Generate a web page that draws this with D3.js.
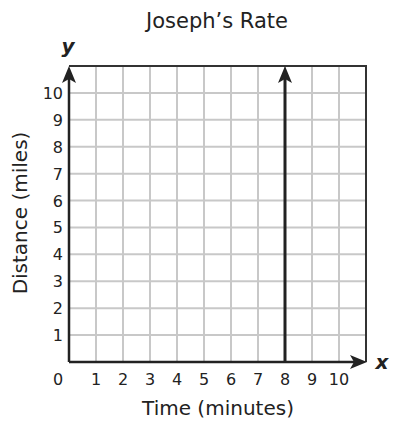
<!DOCTYPE html>
<html><head><meta charset="utf-8">
<script src="https://cdn.jsdelivr.net/npm/d3@7"></script>
<style>body{margin:0;background:#fff}svg{display:block}text{font-family:"DejaVu Sans",Verdana,sans-serif;fill:#222}</style>
</head><body><svg id="c" width="400" height="428"></svg>
<script>
const title = "Joseph’s Rate";
const xLabel = "Time (minutes)";
const yLabel = "Distance (miles)";
const xTickLabels = [0,1,2,3,4,5,6,7,8,9,10];
const yTickLabels = [1,2,3,4,5,6,7,8,9,10];
const gridValues = [1,2,3,4,5,6,7,8,9,10];
const domainMax = 11;
const verticalLineX = [8];

const svg = d3.select("#c");
const x = d3.scaleLinear([0, domainMax], [69, 366]);
const y = d3.scaleLinear([0, domainMax], [362, 66]);

// grid
svg.append("g").selectAll("line").data(gridValues).join("line")
  .attr("x1", d => x(d)).attr("x2", d => x(d)).attr("y1", y(0)).attr("y2", y(domainMax))
  .attr("stroke", "#c8c8c8").attr("stroke-width", 2);
svg.append("g").selectAll("line").data(gridValues).join("line")
  .attr("y1", d => y(d)).attr("y2", d => y(d)).attr("x1", x(0)).attr("x2", x(domainMax))
  .attr("stroke", "#c8c8c8").attr("stroke-width", 2);
// border top/right
svg.append("path")
  .attr("d", `M${x(0)},${y(domainMax)}H${x(domainMax)}V${y(0)}`)
  .attr("fill", "none").attr("stroke", "#333").attr("stroke-width", 2);

function arrowHead(tx, ty, dir) {
  const L = 17, W = 7, N = 4;
  if (dir === "up")
    return `M${tx},${ty}L${tx+W},${ty+L}L${tx},${ty+L-N}L${tx-W},${ty+L}Z`;
  return `M${tx},${ty}L${tx-L},${ty-W}L${tx-L+N},${ty}L${tx-L},${ty+W}Z`;
}

// axes
svg.append("line").attr("x1", x(0)).attr("x2", x(domainMax)-8).attr("y1", y(0)).attr("y2", y(0))
  .attr("stroke", "#222").attr("stroke-width", 2.5);
svg.append("path").attr("d", arrowHead(x(domainMax)+1, y(0), "right")).attr("fill", "#222");
svg.append("line").attr("x1", x(0)).attr("x2", x(0)).attr("y1", y(0)).attr("y2", y(domainMax)+8)
  .attr("stroke", "#222").attr("stroke-width", 2.5);
svg.append("path").attr("d", arrowHead(x(0), y(domainMax), "up")).attr("fill", "#222");

// vertical line
verticalLineX.forEach(v => {
  svg.append("line").attr("x1", x(v)).attr("x2", x(v)).attr("y1", y(0)).attr("y2", y(domainMax)+8)
    .attr("stroke", "#222").attr("stroke-width", 3);
  svg.append("path").attr("d", arrowHead(x(v), y(domainMax), "up")).attr("fill", "#222");
});

// tick labels
svg.append("g").selectAll("text").data(xTickLabels).join("text")
  .attr("x", d => d === 0 ? x(0) - 11 : x(d)).attr("y", 385)
  .attr("text-anchor", "middle").attr("font-size", 16).text(d => d);
svg.append("g").selectAll("text").data(yTickLabels).join("text")
  .attr("x", 63).attr("y", d => y(d) + 6)
  .attr("text-anchor", "end").attr("font-size", 16).text(d => d);

// titles
svg.append("text").attr("x", 217).attr("y", 28).attr("text-anchor", "middle").attr("font-size", 21).text(title);
svg.append("text").attr("x", 218).attr("y", 415).attr("text-anchor", "middle").attr("font-size", 20).text(xLabel);
svg.append("text").attr("transform", "translate(27,213) rotate(-90)").attr("text-anchor", "middle").attr("font-size", 20).text(yLabel);
svg.append("text").attr("x", 68).attr("y", 53).attr("text-anchor", "middle").attr("font-size", 20)
  .attr("font-weight", "bold").attr("font-style", "italic").text("y");
svg.append("text").attr("x", 382).attr("y", 369).attr("text-anchor", "middle").attr("font-size", 20)
  .attr("font-weight", "bold").attr("font-style", "italic").text("x");
</script></body></html>
